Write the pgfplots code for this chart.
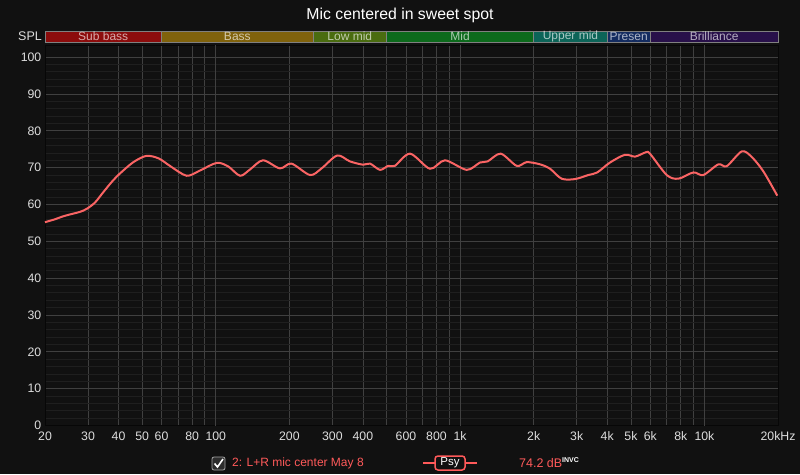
\documentclass[border=0pt]{standalone}
\usepackage{fontspec}
\setmainfont{Liberation Sans}
\usepackage{pgfplots}
\pgfplotsset{compat=1.18}
\definecolor{bg}{HTML}{111111}
\definecolor{gridmaj}{HTML}{404040}
\definecolor{gridmin}{HTML}{1F1F1F}
\definecolor{gridhi}{HTML}{8A8A8A}
\definecolor{ticktext}{HTML}{DDDDDD}
\definecolor{curve}{HTML}{FA6464}
\definecolor{cSub}{HTML}{8C0C0C}
\definecolor{cBass}{HTML}{80620C}
\definecolor{cLow}{HTML}{4A6C10}
\definecolor{cMid}{HTML}{0C6A1C}
\definecolor{cUpper}{HTML}{0C6458}
\definecolor{cPres}{HTML}{142C60}
\definecolor{cBril}{HTML}{28104A}
\definecolor{bandedge}{HTML}{808080}
\definecolor{legred}{HTML}{FF5A5A}
\begin{document}
\begin{tikzpicture}[x=1pt,y=1pt]
\fill[bg] (0,0) rectangle (800,474);
\useasboundingbox (0,0) rectangle (800,474);
\node[text=white,font=\fontsize{15.8}{18}\selectfont] at (400,459) {Mic centered in sweet spot};
\node[anchor=east,inner sep=0pt,text=ticktext,font=\fontsize{12.5}{14}\selectfont] at (42,437.5) {SPL};
\begin{axis}[
  at={(45pt,48.5pt)}, anchor=south west, scale only axis,
  width=733pt, height=380.5pt,
  xmode=log, xmin=20, xmax=20000, ymin=0, ymax=103.3,
  clip=false,
  axis line style={draw=gridmaj!130},
  major tick length=0pt, minor tick length=0pt,
  tick style={draw=none},
  xtick={20,30,40,50,60,70,80,90,200,300,400,500,600,700,800,900,2000,3000,4000,5000,6000,7000,8000,9000,20000},
  xticklabels={20,30,40,50,60,{},80,{},200,300,400,{},600,{},800,{},2k,3k,4k,5k,6k,{},8k,{},20kHz},
  extra x ticks={100,1000,10000},
  extra x tick labels={100,1k,10k},
  extra x tick style={grid style={color=gridhi,line width=0.8pt}},
  ytick={0,10,...,100},
  minor y tick num=4,
  xmajorgrids, ymajorgrids, yminorgrids, xminorgrids=false,
  major grid style={color=gridmaj,line width=0.8pt},
  minor grid style={color=gridmin,line width=0.8pt},
  /pgf/number format/assume math mode=true,
  ticklabel style={text=ticktext,font=\fontsize{12.3}{14}\selectfont},
  yticklabel style={inner sep=0pt,xshift=-3.5pt},
  xticklabel style={inner sep=0pt,yshift=-6pt},
]
\filldraw[fill=cSub,draw=bandedge,line width=0.9pt] (axis cs:20,104.1) rectangle (axis cs:60,107.1);
\filldraw[fill=cBass,draw=bandedge,line width=0.9pt] (axis cs:60,104.1) rectangle (axis cs:250,107.1);
\filldraw[fill=cLow,draw=bandedge,line width=0.9pt] (axis cs:250,104.1) rectangle (axis cs:500,107.1);
\filldraw[fill=cMid,draw=bandedge,line width=0.9pt] (axis cs:500,104.1) rectangle (axis cs:2000,107.1);
\filldraw[fill=cUpper,draw=bandedge,line width=0.9pt] (axis cs:2000,104.1) rectangle (axis cs:4000,107.1);
\filldraw[fill=cPres,draw=bandedge,line width=0.9pt] (axis cs:4000,104.1) rectangle (axis cs:6000,107.1);
\filldraw[fill=cBril,draw=bandedge,line width=0.9pt] (axis cs:6000,104.1) rectangle (axis cs:20000,107.1);
\begin{scope}[every node/.style={text=white,text opacity=0.65,font=\fontsize{12}{13}\selectfont,inner sep=0pt}]
\node at (axis cs:34.6,105.6) {Sub bass};
\node at (axis cs:122.5,105.6) {Bass};
\node at (axis cs:353.6,105.6) {Low mid};
\node at (axis cs:1000,105.6) {Mid};
\node at (axis cs:2828,105.6) {Upper mid};
\node at (axis cs:4899,105.6) {Presen};
\node at (axis cs:10954,105.6) {Brilliance};
\end{scope}
\addplot[curve,line width=2pt,smooth,tension=0.5] coordinates {
(20,55.2) (22,56.0) (23.5,56.7) (25.3,57.3) (27.8,58.0) (29.6,58.8) (32.0,60.5)
(34.6,63.3) (37.6,66.2) (40.5,68.4) (46,71.5) (52,73.2) (58.4,72.5) (65.5,70.3)
(76,67.8) (86,69.2) (101,71.3) (112.6,70.3) (125.7,67.8) (138,69.5) (156,72.0)
(183,69.8) (204,71.1) (243,68.0) (271,69.8) (314,73.3) (354,71.7) (401,70.8)
(428,71.1) (470,69.4) (508,70.5) (541,70.5) (624,73.8) (753,69.7) (867,72.0)
(1064,69.4) (1206,71.4) (1297,71.7) (1466,73.8) (1704,70.5) (1873,71.5) (2124,70.9)
(2334,69.7) (2603,67.0) (2952,66.9) (3346,68.0) (3640,68.7) (4107,71.4) (4730,73.5)
(5199,73.0) (5767,74.2) (6000,73.7) (7009,68.0) (7818,67.0) (9004,68.7) (9894,68.0)
(11393,70.9) (12330,70.4) (14200,74.4) (15560,73.0) (17416,69.0) (19860,62.4)
};
\end{axis}
% legend row
\filldraw[fill=gray!35!black,draw=gray!70,line width=0.8pt,rounded corners=2pt] (212,4) rectangle (225,17);
\draw[white,line width=1.6pt] (214.5,10.5) -- (217.5,7) -- (223,15);
\node[anchor=west,inner sep=0pt,text=legred,font=\fontsize{12}{14}\selectfont] at (232,11) {2: L+R mic center May 8};
\draw[legred,line width=1.5pt] (423,11) -- (435,11);
\draw[legred,line width=1.5pt] (465,11) -- (477,11);
\draw[legred,line width=1.5pt,fill=bg,rounded corners=3pt] (435,4) rectangle (465,18);
\node[text=white,inner sep=0pt,font=\fontsize{11.5}{13}\selectfont] at (450,11) {Psy};
\node[anchor=west,inner sep=0pt,text=legred,font=\fontsize{12.5}{14}\selectfont] at (519,11) {74.2 dB};
\node[anchor=west,inner sep=0pt,text=white,font=\bfseries\fontsize{7}{8}\selectfont] at (562,14) {INVC};
\end{tikzpicture}
\end{document}
